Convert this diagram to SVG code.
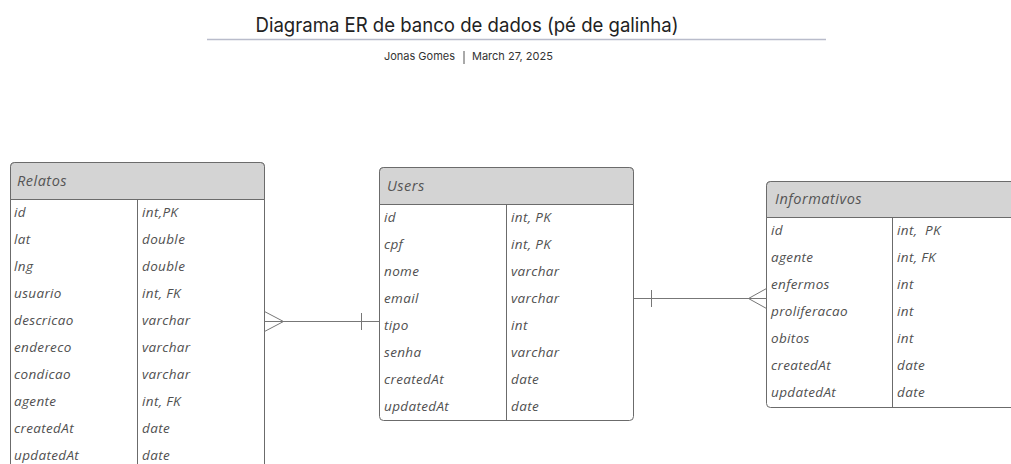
<svg xmlns="http://www.w3.org/2000/svg" width="1011" height="464" viewBox="0 0 1011 464">
<style>
.title{font-family:Inter,"Liberation Sans",sans-serif;font-size:20px;fill:#222}
.sub{font-family:Inter,"Liberation Sans",sans-serif;font-size:11px;fill:#333}
.box{fill:#fff;stroke:#6b6b6b;stroke-width:1}
.hdr{fill:#d4d4d4;stroke:#6b6b6b;stroke-width:1}
.div{stroke:#6b6b6b;stroke-width:1}
.t{font-family:"Open Sans","Liberation Sans",sans-serif;font-style:italic;font-size:13.5px;letter-spacing:0.35px;fill:#505050;white-space:pre}
.h{font-family:"Open Sans","Liberation Sans",sans-serif;font-style:italic;font-size:14.5px;letter-spacing:0.5px;fill:#555}
.c{stroke:#777;stroke-width:1;fill:none}
</style>
<rect width="1011" height="464" fill="#fff"/>
<g id="header">
<text class="title" x="467" y="32" text-anchor="middle" textLength="423" lengthAdjust="spacingAndGlyphs">Diagrama ER de banco de dados (pé de galinha)</text>
<line x1="207" y1="39.5" x2="826" y2="39.5" stroke="#b9bccb" stroke-width="1.5"/>
<text class="sub" x="455" y="60" text-anchor="end">Jonas Gomes</text>
<line x1="464" y1="51" x2="464" y2="64" stroke="#555" stroke-width="1"/>
<text class="sub" x="472" y="60">March 27, 2025</text>
</g>
<g id="relatos">
<rect class="box" x="10.5" y="162.5" width="254" height="320" rx="4"/>
<path class="hdr" d="M10.5 199.5 V166.5 a4 4 0 0 1 4 -4 H260.5 a4 4 0 0 1 4 4 V199.5 Z"/>
<line class="div" x1="137.5" y1="199.5" x2="137.5" y2="470"/>
<text class="h" x="17" y="186">Relatos</text>
<text class="t" x="14" y="217">id</text><text class="t" x="142" y="217">int,PK</text>
<text class="t" x="14" y="244">lat</text><text class="t" x="142" y="244">double</text>
<text class="t" x="14" y="271">lng</text><text class="t" x="142" y="271">double</text>
<text class="t" x="14" y="298">usuario</text><text class="t" x="142" y="298">int, FK</text>
<text class="t" x="14" y="325">descricao</text><text class="t" x="142" y="325">varchar</text>
<text class="t" x="14" y="352">endereco</text><text class="t" x="142" y="352">varchar</text>
<text class="t" x="14" y="379">condicao</text><text class="t" x="142" y="379">varchar</text>
<text class="t" x="14" y="406">agente</text><text class="t" x="142" y="406">int, FK</text>
<text class="t" x="14" y="433">createdAt</text><text class="t" x="142" y="433">date</text>
<text class="t" x="14" y="460">updatedAt</text><text class="t" x="142" y="460">date</text>
</g>
<g id="users">
<rect class="box" x="379.5" y="167.5" width="254" height="253" rx="4"/>
<path class="hdr" d="M379.5 204.5 V171.5 a4 4 0 0 1 4 -4 H629.5 a4 4 0 0 1 4 4 V204.5 Z"/>
<line class="div" x1="506.5" y1="204.5" x2="506.5" y2="420.5"/>
<text class="h" x="387" y="191">Users</text>
<text class="t" x="384" y="222">id</text><text class="t" x="511" y="222">int, PK</text>
<text class="t" x="384" y="249">cpf</text><text class="t" x="511" y="249">int, PK</text>
<text class="t" x="384" y="276">nome</text><text class="t" x="511" y="276">varchar</text>
<text class="t" x="384" y="303">email</text><text class="t" x="511" y="303">varchar</text>
<text class="t" x="384" y="330">tipo</text><text class="t" x="511" y="330">int</text>
<text class="t" x="384" y="357">senha</text><text class="t" x="511" y="357">varchar</text>
<text class="t" x="384" y="384">createdAt</text><text class="t" x="511" y="384">date</text>
<text class="t" x="384" y="411">updatedAt</text><text class="t" x="511" y="411">date</text>
</g>
<g id="informativos">
<rect class="box" x="766.5" y="181.5" width="270" height="226" rx="4"/>
<path class="hdr" d="M766.5 217.5 V185.5 a4 4 0 0 1 4 -4 H1032.5 a4 4 0 0 1 4 4 V217.5 Z"/>
<line class="div" x1="892.5" y1="217.5" x2="892.5" y2="407.5"/>
<text class="h" x="775" y="204">Informativos</text>
<text class="t" x="771" y="235">id</text><text class="t" x="897" y="235">int,  PK</text>
<text class="t" x="771" y="262">agente</text><text class="t" x="897" y="262">int, FK</text>
<text class="t" x="771" y="289">enfermos</text><text class="t" x="897" y="289">int</text>
<text class="t" x="771" y="316">proliferacao</text><text class="t" x="897" y="316">int</text>
<text class="t" x="771" y="343">obitos</text><text class="t" x="897" y="343">int</text>
<text class="t" x="771" y="370">createdAt</text><text class="t" x="897" y="370">date</text>
<text class="t" x="771" y="397">updatedAt</text><text class="t" x="897" y="397">date</text>
</g>
<g id="connectors">
<line class="c" x1="264.5" y1="321.5" x2="379.5" y2="321.5"/>
<path class="c" d="M264.5 311.5 L283.5 321.5 L264.5 331.5"/>
<line class="c" x1="361.5" y1="313" x2="361.5" y2="330"/>
<line class="c" x1="633.5" y1="298.5" x2="766.5" y2="298.5"/>
<path class="c" d="M766.5 288.5 L748.5 298.5 L766.5 308.5"/>
<line class="c" x1="651.5" y1="290" x2="651.5" y2="307"/>
</g>
</svg>
